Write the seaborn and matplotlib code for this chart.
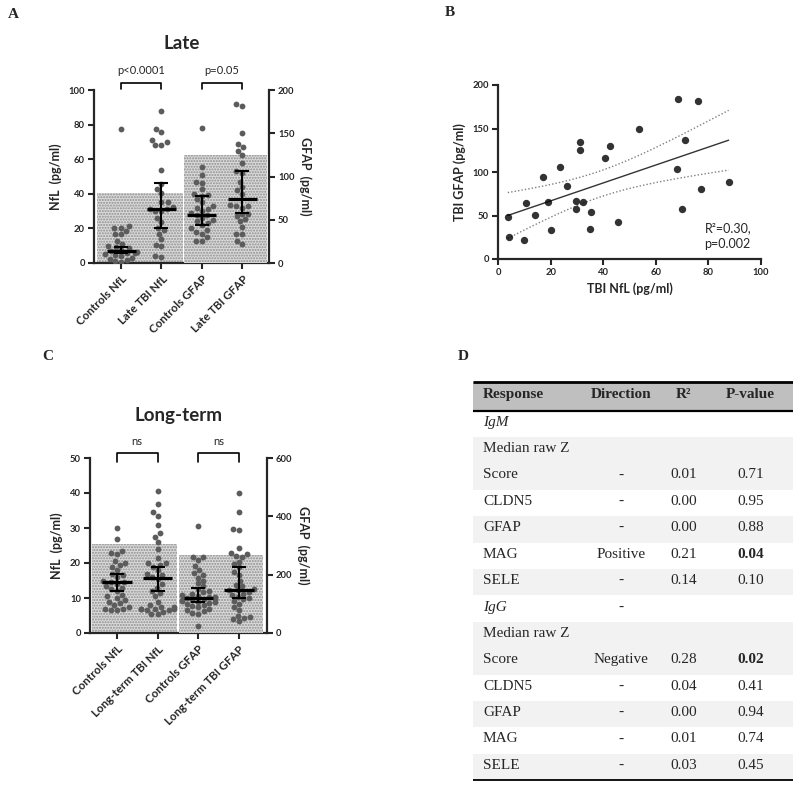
import numpy as np
import pandas as pd
import matplotlib
matplotlib.use("Agg")
import matplotlib.pyplot as plt
import seaborn as sns

# ---------------- DATA ----------------
groups_late = ["Controls NfL", "Late TBI NfL", "Controls GFAP", "Late TBI GFAP"]
groups_long = ["Controls NfL", "Long-term TBI NfL", "Controls GFAP", "Long-term TBI GFAP"]

# Panel A (Late) - NfL in pg/ml (left axis), GFAP in pg/ml (right axis)
late_ctrl_nfl = [77.5, 21.5, 20.5, 20.0, 18.5, 17.0, 16.5, 13.0, 11.0, 10.0, 9.5, 8.5,
                 7.5, 7.0, 6.5, 6.0, 5.5, 5.0, 4.5, 4.0, 3.0, 2.5, 2.0, 1.0, 0.5]
late_ctrl_gfap = [156, 111, 102, 94, 93, 86, 80, 79, 78, 74, 70, 66, 64, 62, 60, 58, 56,
                  55, 52, 50, 48, 46, 44, 40, 38, 36, 34, 30, 26, 26]
# TBI patients (paired, also used in panel B)
tbi_nfl = [3.7, 4.3, 9.8, 10.5, 13.9, 17.0, 19.1, 20.3, 23.6, 26.1, 29.8, 29.8, 31.1, 31.1,
           32.2, 35.3, 35.1, 40.6, 42.6, 45.7, 53.7, 68.4, 68.2, 69.8, 71.1, 75.9, 77.2, 87.7]
tbi_gfap = [48, 25, 22, 64, 51, 94, 66, 33, 106, 84, 67, 57, 134, 125,
            66, 54, 34, 116, 130, 42, 150, 184, 104, 57, 137, 182, 80, 88]
late_median = [7.0, 31.0, 55.0, 74.0]
late_low = [5.8, 20.0, 44.0, 58.0]
late_high = [9.0, 46.0, 78.0, 106.0]
late_bars = [40.5, 125.0]          # NfL bar (left scale), GFAP bar (right scale)
late_pvals = ["p<0.0001", "p=0.05"]

# Panel C (Long-term)
lt_ctrl_nfl = [30.0, 27.0, 23.5, 22.5, 23.0, 20.5, 20.0, 19.5, 19.0, 18.0, 17.0, 16.5, 16.0,
               15.0, 14.5, 14.5, 14.0, 13.5, 13.0, 12.5, 12.0, 11.0, 10.5, 10.0, 9.5, 9.0,
               8.5, 8.0, 7.5, 7.0, 7.0, 6.5, 6.5]
lt_tbi_nfl = [40.5, 37.0, 34.5, 33.5, 31.0, 28.5, 27.5, 26.0, 24.0, 21.5, 20.0, 20.0, 19.5,
              19.0, 18.0, 17.0, 16.5, 16.0, 15.5, 14.0, 13.0, 12.0, 11.5, 10.5, 9.0, 8.0,
              7.5, 7.5, 7.0, 7.0, 7.0, 7.0, 6.5, 6.5, 6.0, 5.5, 5.5]
lt_ctrl_gfap = [368, 262, 262, 250, 230, 215, 205, 200, 190, 180, 170, 160, 150, 145, 140,
                135, 130, 128, 125, 122, 120, 118, 116, 114, 112, 110, 108, 106, 104, 100,
                96, 92, 88, 84, 80, 76, 70, 66, 24]
lt_tbi_gfap = [480, 416, 356, 352, 290, 275, 272, 265, 262, 245, 235, 225, 210, 200, 180,
               165, 160, 150, 148, 146, 140, 135, 130, 125, 120, 115, 110, 100, 90, 80,
               60, 55, 52, 48, 40]
lt_median = [14.5, 15.8, 120.0, 146.0]
lt_low = [12.0, 12.0, 108.0, 120.0]
lt_high = [17.0, 19.0, 156.0, 228.0]
lt_bars = [25.3, 268.0]
lt_pvals = ["ns", "ns"]

# Panel B annotation
b_stats = "R\u00b2=0.30,\np=0.002"

# Panel D table
tab_header = ["Response", "Direction", "R\u00b2", "P-value"]
tab_response = ["IgM", "Median raw Z\nScore", "CLDN5", "GFAP", "MAG", "SELE",
                "IgG", "Median raw Z\nScore", "CLDN5", "GFAP", "MAG", "SELE"]
tab_direction = ["", "-", "-", "-", "Positive", "-", "-", "Negative", "-", "-", "-", "-"]
tab_r2 = ["", "0.01", "0.00", "0.00", "0.21", "0.14", "", "0.28", "0.04", "0.00", "0.01", "0.03"]
tab_p = ["", "0.71", "0.95", "0.88", "0.04", "0.10", "", "0.02", "0.41", "0.94", "0.74", "0.45"]

# ---------------- STYLE ----------------
sns.set_style("ticks")
plt.rcParams["font.family"] = ["Lato", "DejaVu Sans"]
plt.rcParams["hatch.linewidth"] = 1.0

W, H = 800, 788
fig = plt.figure(figsize=(W / 100, H / 100), dpi=100)

def frac(left, top, right, bottom):
    return [left / W, 1 - bottom / H, (right - left) / W, (bottom - top) / H]

DOT = "#5c5c5c"
BAR_FC = "#dadada"
BAR_HC = "#8e8e8e"


def group_panel(rect, cats, nfl_lists, gfap_lists, med, lo, hi, bars, bar_edges,
                ylim_l, yt_l, ylim_r, yt_r, xlim, title, title_y, pvals, br_y, br_leg, txt_y):
    ax = fig.add_axes(rect)
    ax2 = ax.twinx()
    # background bars
    ax.bar(bar_edges[0][0], bars[0], width=bar_edges[0][1] - bar_edges[0][0], align="edge",
           color=BAR_FC, edgecolor=BAR_HC, hatch="......", lw=0, zorder=0)
    ax2.bar(bar_edges[1][0], bars[1], width=bar_edges[1][1] - bar_edges[1][0], align="edge",
            color=BAR_FC, edgecolor=BAR_HC, hatch="......", lw=0, zorder=0)
    dn = pd.DataFrame({"group": [cats[0]] * len(nfl_lists[0]) + [cats[1]] * len(nfl_lists[1]),
                       "value": list(nfl_lists[0]) + list(nfl_lists[1])})
    dg = pd.DataFrame({"group": [cats[2]] * len(gfap_lists[0]) + [cats[3]] * len(gfap_lists[1]),
                       "value": list(gfap_lists[0]) + list(gfap_lists[1])})
    sns.swarmplot(data=dn, x="group", y="value", order=cats, ax=ax, color=DOT,
                  size=4.2, linewidth=0, zorder=3, warn_thresh=1)
    sns.swarmplot(data=dg, x="group", y="value", order=cats, ax=ax2, color=DOT,
                  size=4.2, linewidth=0, zorder=3, warn_thresh=1)
    for i in range(4):
        a = ax if i < 2 else ax2
        a.hlines(med[i], i - 0.36, i + 0.36, color="black", lw=2.3, zorder=6)
        a.errorbar(i, med[i], yerr=[[med[i] - lo[i]], [hi[i] - med[i]]], fmt="none",
                   ecolor="black", elinewidth=1.5, capsize=5.3, capthick=1.5, zorder=6)
    ax.set_xlim(*xlim)
    ax.set_ylim(*ylim_l)
    ax2.set_ylim(*ylim_r)
    ax.set_yticks(yt_l)
    ax2.set_yticks(yt_r)
    ax.set_xticks(range(4))
    ax.set_xticklabels(cats, rotation=45, ha="right", va="top", rotation_mode="anchor",
                       fontsize=8.3, fontweight="bold")
    ax.set_xlabel("")
    ax2.set_xlabel("")
    ax.set_ylabel("NfL  (pg/ml)", fontsize=9, fontweight="bold", labelpad=5)
    ax2.set_ylabel("GFAP  (pg/ml)", fontsize=9, fontweight="bold", rotation=270, labelpad=12)
    for s in ["top", "right"]:
        ax.spines[s].set_visible(False)
    for s in ["top", "left", "bottom"]:
        ax2.spines[s].set_visible(False)
    ax.spines["left"].set_linewidth(1.6)
    ax.spines["bottom"].set_linewidth(1.6)
    ax2.spines["right"].set_linewidth(1.6)
    ax.tick_params(axis="y", length=4.5, width=1.5, labelsize=6.8, pad=2)
    ax2.tick_params(axis="y", length=4.5, width=1.5, labelsize=6.8, pad=2)
    ax.tick_params(axis="x", length=4.5, width=1.5, pad=3)
    for lab in ax.get_yticklabels() + ax2.get_yticklabels():
        lab.set_fontweight("bold")
    ax.text(0.5, title_y, title, transform=ax.transAxes, ha="center", va="center",
            fontsize=13.5, fontweight="bold")
    for k, (x0, x1) in enumerate([(0, 1), (2, 3)]):
        ax.plot([x0, x0, x1, x1], [br_leg, br_y, br_y, br_leg], color="black", lw=1.2,
                clip_on=False, zorder=7)
        ax.text((x0 + x1) / 2, txt_y, pvals[k], ha="center", va="center", fontsize=8)
    return ax, ax2


# Panel A
group_panel(frac(94, 90, 269, 263), groups_late, [late_ctrl_nfl, tbi_nfl],
            [late_ctrl_gfap, tbi_gfap], late_median, late_low, late_high, late_bars,
            [(-0.6, 1.53), (1.56, 3.61)], (0, 100), [0, 20, 40, 60, 80, 100],
            (0, 200), [0, 50, 100, 150, 200], (-0.67, 3.66), "Late", 1.27,
            late_pvals, 104.2, 100.3, 111.5)

# Panel C
group_panel(frac(90, 458, 267, 633), groups_long, [lt_ctrl_nfl, lt_tbi_nfl],
            [lt_ctrl_gfap, lt_tbi_gfap], lt_median, lt_low, lt_high, lt_bars,
            [(-0.62, 1.48), (1.53, 3.6)], (0, 50), [0, 10, 20, 30, 40, 50],
            (0, 600), [0, 200, 400, 600], (-0.66, 3.69), "Long-term", 1.245,
            lt_pvals, 51.4, 48.8, 54.8)

# Panel B
axB = fig.add_axes(frac(498, 85, 761, 259))
xv = np.array(tbi_nfl, dtype=float)
yv = np.array(tbi_gfap, dtype=float)
sns.regplot(x=xv, y=yv, ax=axB, ci=None,
            scatter_kws=dict(s=28, color="black", linewidths=0, zorder=4),
            line_kws=dict(color="#333333", lw=1.0, zorder=3))
n = len(xv)
slope, icpt = np.polyfit(xv, yv, 1)
resid = yv - (slope * xv + icpt)
s_err = np.sqrt(np.sum(resid ** 2) / (n - 2))
xs = np.linspace(xv.min(), xv.max(), 100)
se = s_err * np.sqrt(1 / n + (xs - xv.mean()) ** 2 / np.sum((xv - xv.mean()) ** 2))
tcrit = 2.056
yfit = slope * xs + icpt
axB.plot(xs, yfit + tcrit * se, ls=(0, (1, 1.5)), color="#808080", lw=1.0)
axB.plot(xs, yfit - tcrit * se, ls=(0, (1, 1.5)), color="#808080", lw=1.0)
axB.set_xlim(0, 100)
axB.set_ylim(0, 200)
axB.set_xticks([0, 20, 40, 60, 80, 100])
axB.set_yticks([0, 50, 100, 150, 200])
axB.set_xlabel("TBI NfL (pg/ml)", fontsize=9, fontweight="bold", labelpad=4)
axB.set_ylabel("TBI GFAP (pg/ml)", fontsize=9, fontweight="bold", labelpad=5)
for s in ["top", "right"]:
    axB.spines[s].set_visible(False)
axB.spines["left"].set_linewidth(1.6)
axB.spines["bottom"].set_linewidth(1.6)
axB.tick_params(length=4.5, width=1.5, labelsize=6.8, pad=2)
for lab in axB.get_xticklabels() + axB.get_yticklabels():
    lab.set_fontweight("bold")
axB.text(78.5, 26, b_stats, ha="left", va="center", fontsize=9, linespacing=1.35)

# Panel D table
axT = fig.add_axes(frac(473, 381, 793, 781))
axT.set_xlim(0, 320)
axT.set_ylim(400, 0)
axT.axis("off")
SERIF = ["Liberation Serif", "DejaVu Serif"]
hdr_h = 29.5
line_h = 26.4
axT.axhspan(0.8, hdr_h, color="#bfbfbf", lw=0)
axT.plot([0, 320], [0.8, 0.8], color="black", lw=2.0, solid_capstyle="butt")
axT.plot([0, 320], [hdr_h, hdr_h], color="black", lw=1.6, solid_capstyle="butt")
col_x = [10, 148, 211, 277.5]
col_ha = ["left", "center", "center", "center"]
for j, h in enumerate(tab_header):
    axT.text(col_x[j], 13.5, h, ha=col_ha[j], va="center", fontsize=11,
             fontweight="bold", family=SERIF)
y = hdr_h
for i in range(len(tab_response)):
    lines = tab_response[i].split("\n")
    rh = line_h * len(lines)
    if i % 2 == 1:
        axT.axhspan(y, y + rh, color="#f2f2f2", lw=0, zorder=0)
    italic = tab_response[i] in ("IgM", "IgG")
    for k, ln in enumerate(lines):
        axT.text(col_x[0], y + line_h * (k + 0.5) - 1.5, ln, ha="left", va="center",
                 fontsize=11, family=SERIF, style="italic" if italic else "normal")
    yl = y + line_h * (len(lines) - 0.5) - 1.5
    axT.text(col_x[1], yl, tab_direction[i], ha="center", va="center", fontsize=11, family=SERIF)
    axT.text(col_x[2], yl, tab_r2[i], ha="center", va="center", fontsize=11, family=SERIF)
    bold = tab_p[i] != "" and float(tab_p[i]) < 0.05
    axT.text(col_x[3], yl, tab_p[i], ha="center", va="center", fontsize=11, family=SERIF,
             fontweight="bold" if bold else "normal")
    y += rh
axT.plot([0, 320], [y, y], color="black", lw=1.3, solid_capstyle="butt")

# Panel letters
for letter, (px, py) in zip("ABCD", [(13, 15), (450, 13), (48, 357), (463, 357)]):
    fig.text(px / W, 1 - py / H, letter, ha="center", va="center", fontsize=11,
             fontweight="bold", family=SERIF)

fig.savefig("out.png", dpi=100)
